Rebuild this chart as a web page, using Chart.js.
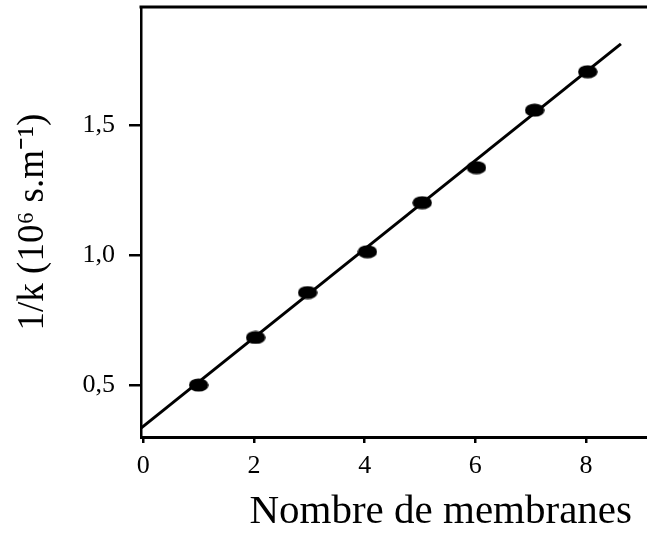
<!DOCTYPE html>
<html>
<head>
<meta charset="utf-8">
<script src="https://cdn.jsdelivr.net/npm/chart.js@4/dist/chart.umd.min.js"></script>
<style>
  html, body { margin: 0; padding: 0; background: #fff; }
  #wrap { width: 647px; height: 538px; }
</style>
</head>
<body>
<div id="wrap"><canvas id="c" width="647" height="538"></canvas></div>
<script>
// Data
const membranes = [1, 2.03, 2.97, 4.05, 5.04, 6.02, 7.07, 8.03];
const invK = [0.50, 0.683, 0.856, 1.013, 1.202, 1.337, 1.558, 1.706];
const fitX = [-0.04, 8.63];
const fitY = [0.334, 1.813];
const xTicks = [0, 2, 4, 6, 8];
const yTicks = [0.5, 1.0, 1.5];
const xTitle = 'Nombre de membranes';
const yTitle = '1/k (10\u2076 s.m\u207B\u00B9)';

const FONT = "'Liberation Serif', 'Times New Roman', serif";

// ellipse marker
const marker = document.createElement('canvas');
marker.width = 20; marker.height = 14;
(function () {
  const m = marker.getContext('2d');
  m.fillStyle = '#000';
  m.beginPath();
  m.ellipse(10, 7, 9.8, 6.6, 0, 0, Math.PI * 2);
  m.fill();
})();

// top frame line and continuation of the x axis line to the right edge
const frameLines = {
  id: 'frameLines',
  afterDraw(chart) {
    const ctx = chart.ctx, a = chart.chartArea;
    const yb = Math.round(a.bottom - 1.5) + 1.5;
    ctx.save();
    ctx.strokeStyle = '#000';
    ctx.lineWidth = 3;
    ctx.beginPath();
    ctx.moveTo(a.left - 1.5, a.top);
    ctx.lineTo(chart.width, a.top);
    ctx.moveTo(a.right - 2, yb);
    ctx.lineTo(chart.width, yb);
    ctx.stroke();
    ctx.restore();
  }
};

function noPad(s) {
  s.paddingTop = 0; s.paddingBottom = 0; s.paddingLeft = 0; s.paddingRight = 0;
}

new Chart(document.getElementById('c'), {
  type: 'scatter',
  data: {
    datasets: [
      { data: fitX.map((x, i) => ({ x, y: fitY[i] })), showLine: true, borderColor: '#000',
        borderWidth: 3, pointRadius: 0, order: 2 },
      { data: membranes.map((x, i) => ({ x, y: invK[i] })), showLine: false,
        pointStyle: marker, pointRadius: 10, order: 1 }
    ]
  },
  options: {
    responsive: false,
    animation: false,
    layout: { autoPadding: false, padding: { top: 7, right: 15, left: 0, bottom: 0 } },
    plugins: { legend: { display: false }, tooltip: { enabled: false } },
    scales: {
      x: {
        type: 'linear', min: -0.04, max: 8.83,
        afterBuildTicks(s) { s.ticks = xTicks.map(v => ({ value: v })); },
        afterFit(s) { s.height = 101; noPad(s); },
        grid: { drawOnChartArea: false, drawTicks: true, tickLength: 6, color: '#000', lineWidth: 2.5 },
        border: { color: '#000', width: 3 },
        ticks: { color: '#000', font: { family: FONT, size: 26 }, padding: 8, maxRotation: 0,
                 callback: v => String(v) },
        title: { display: true, text: xTitle, color: '#000', align: 'end',
                 font: { family: FONT, size: 41 }, padding: { top: 0, bottom: 1 } }
      },
      y: {
        type: 'linear', min: 0.3, max: 1.955,
        afterBuildTicks(s) { s.ticks = yTicks.map(v => ({ value: v })); },
        afterFit(s) { s.width = 141; noPad(s); },
        grid: { drawOnChartArea: false, drawTicks: true, tickLength: 12, color: '#000', lineWidth: 2.5 },
        border: { color: '#000', width: 2.5 },
        ticks: { color: '#000', font: { family: FONT, size: 26 }, padding: 14,
                 callback: v => v.toFixed(1).replace('.', ',') },
        title: { display: true, text: yTitle, color: '#000',
                 font: { family: FONT, size: 37 }, padding: { top: 11, bottom: 0 } }
      }
    }
  },
  plugins: [frameLines]
});
</script>
</body>
</html>
